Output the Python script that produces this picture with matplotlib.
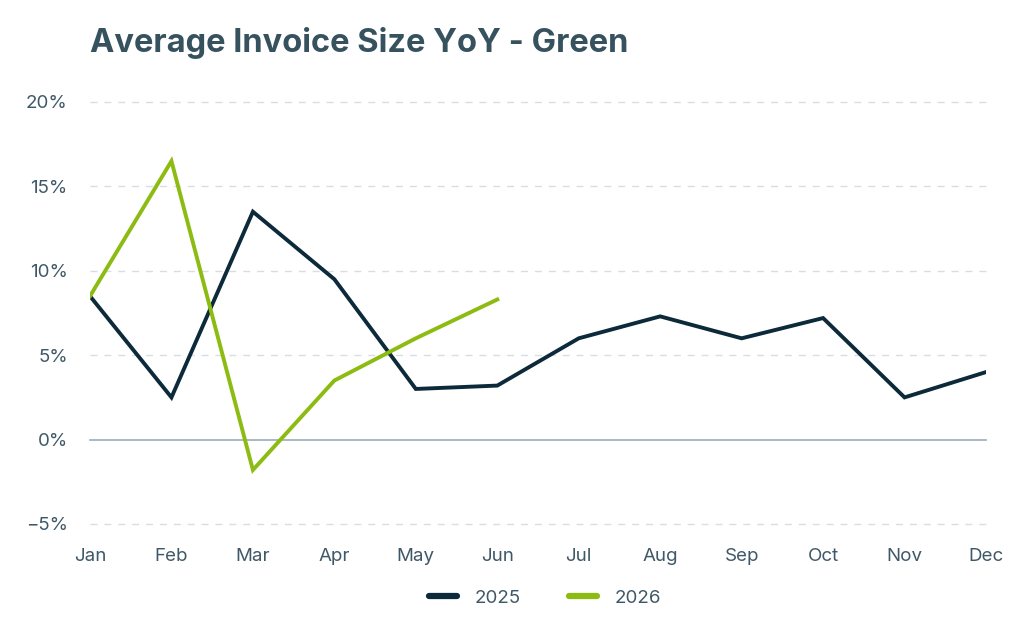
import matplotlib
matplotlib.use('Agg')
import matplotlib.pyplot as plt

months = ['Jan', 'Feb', 'Mar', 'Apr', 'May', 'Jun', 'Jul', 'Aug', 'Sep', 'Oct', 'Nov', 'Dec']
yoy_2025 = [8.5, 2.5, 13.5, 9.5, 3.0, 3.2, 6.0, 7.3, 6.0, 7.2, 2.5, 4.0]
yoy_2026 = [8.5, 16.5, -1.8, 3.5, 6.0, 8.3]
y_ticks = [-5, 0, 5, 10, 15, 20]

plt.rcParams['font.family'] = ['Inter', 'DejaVu Sans']

navy = '#0c2a3a'
green = '#8cbb12'
text_col = '#3f5868'

fig = plt.figure(figsize=(10.24, 6.4), dpi=100)
ax = fig.add_axes([90 / 1024, 116 / 640, 896 / 1024, 422 / 640])

x = list(range(len(months)))
ax.plot(x, yoy_2025, color=navy, lw=2.8, label='2025', solid_joinstyle='miter', zorder=3)
ax.plot(x[:len(yoy_2026)], yoy_2026, color=green, lw=2.8, label='2026', solid_joinstyle='miter', zorder=3)

ax.set_xlim(0, len(months) - 1)
ax.set_ylim(-5, 20)
ax.set_yticks(y_ticks)
ax.set_yticklabels([f'{v}%'.replace('-', '\u2212') for v in y_ticks])
ax.set_xticks(x)
ax.set_xticklabels(months)

for v in y_ticks:
    if v == 0:
        ax.axhline(v, color='#9aabb8', lw=1.2, zorder=1, clip_on=False)
    else:
        ax.axhline(v, color='#d6dde3', lw=1.0, ls=(0, (5, 5)), zorder=1, clip_on=False)

for s in ax.spines.values():
    s.set_visible(False)
ax.tick_params(length=0, labelsize=13.5, colors=text_col)
ax.tick_params(axis='y', pad=16)
ax.tick_params(axis='x', pad=17)

fig.text(90 / 1024, 1 - 43 / 640, 'Average Invoice Size YoY - Green', fontsize=23.5,
         fontweight='bold', color='#37525f', va='center', ha='left')

leg = fig.legend(loc='center', bbox_to_anchor=(545 / 1024, 1 - 598 / 640), ncol=2,
                 frameon=False, fontsize=13.5, handlelength=1.5, columnspacing=2.6,
                 handletextpad=0.9)
for t in leg.get_texts():
    t.set_color(text_col)
for h in leg.get_lines():
    h.set_linewidth(4.5)
    h.set_solid_capstyle('round')

fig.savefig('out.png', dpi=100)
